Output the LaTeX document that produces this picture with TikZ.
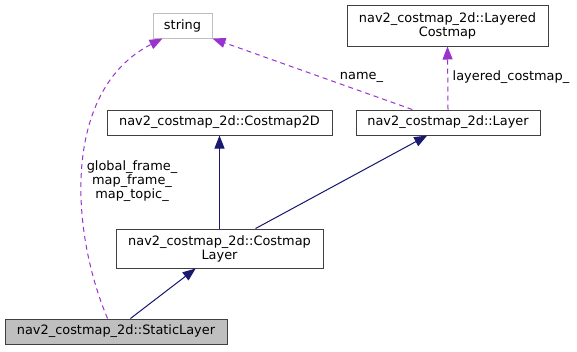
\documentclass[tikz,border=0pt]{standalone}
\usepackage{fontspec}
\setmainfont{DejaVu Sans}
\usepackage{tikz}
\usetikzlibrary{arrows.meta}

\definecolor{midnight}{HTML}{191970}
\definecolor{orchid}{HTML}{9A32CD}
\definecolor{boxgrey}{HTML}{BFBFBF}

\begin{document}
\begin{tikzpicture}[
    x=1pt, y=-1pt,
    >={Triangle[length=13pt,width=10pt]},
    every node/.style={font=\fontsize{12.9}{14}\selectfont},
    cls/.style={draw=black!75, line width=1pt, fill=white, inner sep=0pt, align=center},
    inh/.style={->, draw=midnight, fill=midnight, line width=1pt},
    usage/.style={->, draw=orchid, line width=1pt, dash pattern=on 5pt off 4pt}
]
\useasboundingbox (0,0) rectangle (577,351);

% Classes
\node[cls, draw=boxgrey, minimum width=59pt, minimum height=25pt] (string) at (182.5,25.5) {string};
\node[cls, minimum width=201pt, minimum height=41pt] (layeredcostmap) at (447.5,25.5) {nav2\_costmap\_2d::Layered\\Costmap};
\node[cls, minimum width=225pt, minimum height=25pt] (costmap2d) at (219.5,122.5) {nav2\_costmap\_2d::Costmap2D};
\node[cls, minimum width=184pt, minimum height=25pt] (layer) at (448,122.5) {nav2\_costmap\_2d::Layer};
\node[cls, minimum width=207pt, minimum height=39pt] (costmaplayer) at (219.5,248.5) {nav2\_costmap\_2d::Costmap\\Layer};
\node[cls, fill=boxgrey, minimum width=222pt, minimum height=25pt] (staticlayer) at (116,331.5) {nav2\_costmap\_2d::StaticLayer};

% Inheritance
\draw[inh] (costmaplayer.north) -- (costmap2d.south);
\draw[inh] (costmaplayer.29) -- (layer.212);
\draw[inh] (staticlayer.42) -- (costmaplayer.220);

% Members
\draw[usage] (layer.north) -- (layeredcostmap.south);
\draw[usage] (layer.160) -- (string.south east);
\draw[usage] (staticlayer.123) .. controls (70,230) and (62,90) .. (string.213);

% Member labels
\node (lblname) at (361.5,77) {name\_};
\node (lbllayered) at (511,77) {layered\_costmap\_};
\node[align=center] (lblframes) at (132,181) {global\_frame\_\\map\_frame\_\\map\_topic\_};

\end{tikzpicture}
\end{document}
